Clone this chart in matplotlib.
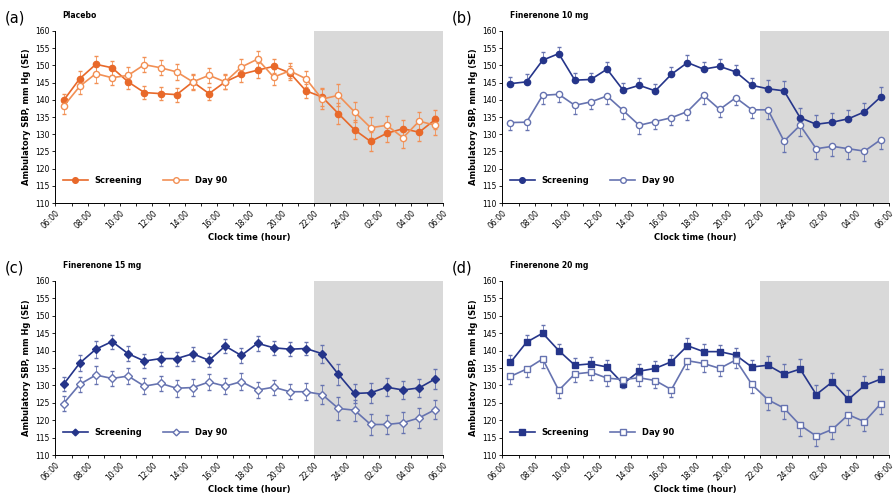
import matplotlib.pyplot as plt
import numpy as np

hours = np.arange(24) + 0.5
tick_labels = ['06:00', '08:00', '10:00', '12:00', '14:00', '16:00', '18:00',
               '20:00', '22:00', '24:00', '02:00', '04:00', '06:00']

# (a) Placebo
a_scr = [139.8, 146.1, 150.3, 149.3, 145.2, 142.1, 141.8, 141.5, 145.2, 141.8, 145.2, 147.4,
         148.6, 149.7, 147.8, 142.6, 140.8, 136.0, 131.3, 127.9, 130.3, 131.6, 130.6, 134.3]
a_d90 = [138.1, 143.9, 147.6, 146.4, 147.1, 150.2, 149.3, 148.1, 145.2, 147.1, 145.2, 149.5,
         151.8, 146.6, 148.4, 146.1, 140.2, 141.3, 136.5, 131.9, 132.6, 129.0, 133.8, 132.6]
# (b) Finerenone 10 mg
b_scr = [144.7, 145.2, 151.5, 153.4, 145.7, 145.9, 148.9, 142.8, 144.2, 142.6, 147.4, 150.8,
         148.9, 149.7, 148.1, 144.2, 143.2, 142.6, 134.8, 132.9, 133.5, 134.5, 136.5, 140.8]
b_d90 = [133.4, 133.5, 141.3, 141.6, 138.4, 139.4, 141.1, 136.9, 132.6, 133.7, 134.8, 136.6,
         141.3, 137.2, 140.6, 137.1, 137.1, 128.0, 132.6, 125.8, 126.5, 125.8, 125.1, 128.4]
# (c) Finerenone 15 mg
c_scr = [130.3, 136.4, 140.4, 142.6, 139.1, 137.0, 137.7, 137.7, 139.1, 137.2, 141.3, 138.6,
         142.1, 140.8, 140.4, 140.6, 139.1, 133.2, 127.7, 127.9, 129.5, 128.7, 129.3, 131.9]
c_d90 = [124.8, 130.3, 133.0, 132.0, 132.7, 129.8, 130.6, 129.2, 129.4, 131.0, 129.8, 131.1,
         128.7, 129.5, 128.2, 128.2, 127.4, 123.4, 122.9, 118.8, 118.8, 119.3, 120.7, 123.1]
# (d) Finerenone 20 mg
d_scr = [136.6, 142.4, 145.0, 140.0, 135.8, 136.2, 135.3, 130.5, 134.1, 134.9, 136.8, 141.4,
         139.7, 139.7, 138.7, 135.3, 135.8, 133.2, 134.7, 127.4, 131.0, 126.0, 130.0, 131.8]
d_d90 = [132.6, 134.7, 137.6, 128.6, 133.3, 133.8, 132.1, 131.7, 132.2, 131.4, 128.8, 137.1,
         136.3, 134.9, 137.3, 130.3, 125.9, 123.5, 118.6, 115.5, 117.4, 121.6, 119.6, 124.7]

se_scr = [2.0, 2.2, 2.4, 2.0, 2.2, 2.0, 2.0, 2.0, 2.0, 2.0, 2.0, 2.2,
          2.2, 2.0, 2.0, 2.0, 2.6, 3.0, 2.8, 2.8, 2.6, 2.6, 2.6, 2.8]
se_d90 = [2.2, 2.2, 2.6, 2.2, 2.4, 2.2, 2.2, 2.4, 2.4, 2.2, 2.2, 2.4,
          2.4, 2.2, 2.2, 2.4, 2.8, 3.2, 3.0, 3.0, 2.8, 3.0, 2.8, 2.8]

panels = [
    ('(a)', 'Placebo', a_scr, a_d90, 'o', '#e8692a', '#f29055', 'both'),
    ('(b)', 'Finerenone 10 mg', b_scr, b_d90, 'o', '#25358a', '#6673b0', 'split'),
    ('(c)', 'Finerenone 15 mg', c_scr, c_d90, 'D', '#25358a', '#6673b0', 'both'),
    ('(d)', 'Finerenone 20 mg', d_scr, d_d90, 's', '#25358a', '#6673b0', 'split'),
]
positions = [[0.062, 0.592, 0.434, 0.346], [0.562, 0.592, 0.432, 0.346],
             [0.062, 0.086, 0.434, 0.350], [0.562, 0.086, 0.432, 0.350]]

fig = plt.figure(figsize=(8.94, 4.98), dpi=100)
for pos, (lab, title, scr, d90, mk, c1, c2, mode) in zip(positions, panels):
    ax = fig.add_axes(pos)
    ax.axvspan(16, 24, color='#d9d9d9', zorder=0, lw=0)
    ms = {'o': 4.5, 'D': 3.8, 's': 5.0}[mk]
    if mode == 'both':
        e1, e2 = se_scr, se_d90
    else:
        e1 = [np.zeros(24), se_scr]
        e2 = [se_d90, np.zeros(24)]
    ax.errorbar(hours, scr, yerr=e1, fmt='none', elinewidth=0.6, capsize=1.5,
                ecolor=c2, zorder=2)
    ax.errorbar(hours, d90, yerr=e2, fmt='none', elinewidth=0.6, capsize=1.5,
                ecolor=c2, zorder=2)
    ax.plot(hours, scr, color=c1, marker=mk, ms=ms, mfc=c1, mec=c1, lw=1.2,
            label='Screening', zorder=3)
    ax.plot(hours, d90, color=c2, marker=mk, ms=ms, mfc='white', mec=c2, mew=1.0,
            lw=1.2, label='Day 90', zorder=4)
    ax.set_xlim(0, 24)
    ax.set_ylim(110, 160)
    ax.set_yticks(np.arange(110, 161, 5))
    ax.set_xticks(np.arange(0, 25, 2))
    ax.set_xticks(np.arange(0, 25, 1), minor=True)
    ax.set_xticklabels(tick_labels, rotation=45, ha='right', rotation_mode='anchor')
    ax.tick_params(labelsize=5.5, length=2.5, width=0.6, pad=1.5)
    ax.tick_params(which='minor', length=2, width=0.6)
    ax.spines['top'].set_visible(False)
    ax.spines['right'].set_visible(False)
    for s in ('left', 'bottom'):
        ax.spines[s].set_linewidth(0.7)
    ax.set_ylabel('Ambulatory SBP, mm Hg (SE)', fontsize=6, fontweight='bold', labelpad=3)
    ax.set_xlabel('Clock time (hour)', fontsize=6, fontweight='bold', labelpad=2)
    ax.legend(loc='lower left', bbox_to_anchor=(0.0, 0.06), ncol=2, frameon=False,
              prop={'weight': 'bold', 'size': 6}, handlelength=3,
              columnspacing=2.5, markerscale=0.9)
    fig.text(pos[0] - 0.057, pos[1] + pos[3] + 0.025, lab, fontsize=10.5, va='center')
    fig.text(pos[0] + 0.008, pos[1] + pos[3] + 0.03, title, fontsize=5.5,
             fontweight='bold', va='center')

fig.savefig('out.png', dpi=100)
